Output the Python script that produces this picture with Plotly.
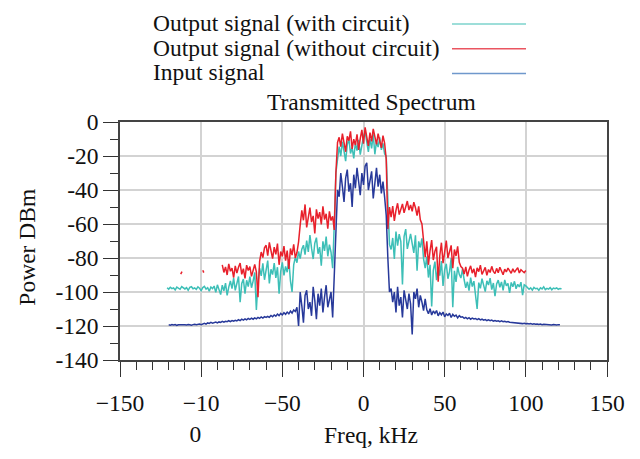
import plotly.graph_objects as go

# ---------------- data ----------------
# Input signal, sampled every 1 kHz from -120 to 121 kHz
input_start = -120
input_signal = [
    -119.3, -119.5, -119.2, -119.4, -119.1, -119.6, -119.3, -119.2, -119.5, -119.0,
    -119.3, -119.4, -119.1, -119.3, -119.5, -119.2, -119.0, -119.3, -119.1, -118.9, -119.2,
    -118.8, -118.4, -118.9, -118.2, -118.5, -117.9, -118.3, -118.0, -117.7, -118.2,
    -117.6, -117.9, -117.3, -117.8, -117.2, -117.5, -116.9, -117.4, -116.8, -117.1,
    -116.6, -117.0, -116.3, -116.8, -116.0, -116.5, -115.8, -116.4, -115.6, -116.1,
    -115.4, -116.0, -115.2, -115.8, -114.9, -115.5, -114.7, -115.3, -114.5, -115.0,
    -114.4, -114.9, -113.8, -114.6, -113.5, -114.2, -113.0, -113.9, -112.6, -113.5,
    -112.2, -113.1, -111.8, -112.8, -111.2, -112.4, -110.6, -111.5,
    -109, -120, -100, -108, -118, -102, -99, -110, -106, -114,
    -97, -105, -116, -101, -108, -98, -112, -103, -96, -109,
    -104, -100, -115,
    -90, -55, -40,
    -44, -30, -38, -47, -33, -28, -41, -36, -50, -31,
    -39, -27, -35, -43, -30, -37, -26, -24, -40, -33,
    -29, -45, -34, -27, -38, -31, -42, -35, -44,
    -55, -80, -100,
    -98, -106, -100, -112, -97, -108, -103, -115, -99, -104,
    -110, -101, -107, -125, -100, -104, -98, -109, -102, -106, -111, -104,
    -110.5, -112.8, -109.8, -113.5, -111.2, -112.6, -110.9, -114.0, -112.1, -113.4,
    -111.8, -114.6, -112.9, -113.8, -112.5, -115.0, -113.2, -114.3, -113.6, -115.2,
    -113.9, -114.8,
    -114.6, -115.5, -114.9, -115.8, -115.1, -116.0, -115.4, -115.9, -115.6, -116.3,
    -115.7, -116.4, -116.0, -116.6, -116.2, -116.8, -116.4, -116.9, -116.5, -117.1,
    -116.8, -117.2, -116.9, -117.4, -117.0, -117.5, -117.2, -117.6, -117.4, -117.8,
    -117.9, -118.2, -118.0, -118.4, -118.1, -118.5, -118.3, -118.6, -118.4, -118.7,
    -118.5, -118.8, -118.6, -118.9, -118.7, -119.0, -118.8, -119.1, -118.9, -119.2,
    -119.0, -119.1, -119.3, -119.0, -119.2, -119.4, -119.1, -119.3, -119.4, -119.2,
    -119.3,
]

# Output signal with circuit, every 1 kHz from -121 to 122 kHz
with_start = -121
with_circuit = [
    -97.5, -98.3, -97.2, -98.0, -97.6, -98.8, -97.1, -97.9, -98.4, -96.8,
    -97.7, -98.2, -97.4, -99.0, -97.3, -96.9, -98.1, -97.6, -98.5, -97.0,
    -97.8, -99.2, -97.4, -96.7, -98.3, -97.5, -99.5, -97.1, -98.0,
    -96.5, -100.2, -95.8, -98.6, -101.5, -96.0, -99.3, -94.8, -102.0, -97.1,
    -93.5, -98.0, -91.8, -99.0, -94.6, -90.9, -106.0, -95.0, -92.4, -101.0,
    -93.1, -96.8, -91.0, -97.5, -93.6, -88.5, -110.5, -94.0,
    -86.0, -90.5, -83.2, -92.8, -87.1, -81.5, -95.0, -86.6, -89.8, -83.0,
    -91.7, -85.4, -101.0, -87.9, -82.6, -90.2, -85.0, -88.4, -80.8, -93.5, -100.0,
    -84.0, -79.5, -82.8, -76.2, -80.4, -74.8,
    -72.5, -78.0, -69.8, -76.4, -66.5, -74.2, -80.6, -71.3, -68.0, -77.5,
    -73.6, -84.5, -70.2, -75.8, -67.4, -79.0, -72.1, -76.6, -86.0,
    -60, -30, -22,
    -14.5, -20.0, -11.6, -17.2, -23.0, -13.4, -9.8, -18.5, -15.0, -21.4,
    -12.2, -16.8, -10.5, -19.2, -14.1, -8.4, -5.8, -13.0, -17.6, -10.0,
    -15.5, -7.2, -19.0, -11.4, -14.8, -9.0, -16.4, -12.5, -18.8,
    -20, -45, -72,
    -75.0, -68.2, -80.5, -64.5, -72.8, -66.0, -70.3, -95.5, -67.4, -63.0,
    -74.6, -69.1, -65.8, -71.5, -77.0, -66.7, -87.5, -70.2, -73.8, -68.4,
    -80.5, -86.0, -79.2, -91.5, -84.0, -108.5, -87.3, -82.1, -93.0, -85.6,
    -90.4, -81.8, -96.5, -86.9, -83.4, -92.2, -88.0, -80.0, -109.0, -87.5,
    -94.0, -85.2, -89.6, -91.8, -86.4,
    -92.8, -97.5, -94.0, -99.2, -91.5, -96.8, -93.6, -101.0, -110.0, -94.5,
    -97.8, -92.2, -96.0, -99.8, -93.4, -95.9, -91.8, -98.6, -94.7, -102.5,
    -95.3, -93.0, -97.2, -94.1, -99.0, -92.9, -96.3, -95.0, -100.5, -94.4,
    -96.9, -93.7, -98.1, -95.5, -97.0, -94.2, -101.8, -95.8, -96.4,
    -97.2, -98.4, -97.6, -98.9, -97.3, -98.1, -97.8, -99.0, -97.5, -98.2,
    -97.0, -98.6, -97.9, -98.3, -97.4, -98.7, -97.7, -98.0, -97.6, -98.4,
    -97.9, -98.1,
]

# Output signal without circuit: two stray fragments, then every 1 kHz from -87 to 100 kHz
without_stray_freq = [-112.6, -111.8, None, -99.0, -98.4, None]
without_stray_power = [-89.5, -88.0, None, -87.2, -88.6, None]
without_start = -87
without_circuit = [
    -84.0, -88.5, -85.2, -90.0, -83.5, -87.8, -86.0, -91.5, -84.6, -88.9,
    -85.5, -83.0, -89.6, -86.3, -92.0, -84.2, -87.4, -85.0, -90.8, -86.7,
    -83.8, -88.2, -103.0,
    -82.0, -76.5, -79.8, -74.0, -72.5, -78.6, -70.8, -75.2, -80.4, -73.6,
    -77.9, -71.5, -84.0, -76.2, -79.0, -73.0, -81.5, -75.6, -86.5, -74.4,
    -78.3, -72.0, -80.0, -76.8, -70.5,
    -60.5, -52.0, -57.8, -48.5, -62.0, -54.6, -50.3, -58.9, -55.2, -65.5,
    -51.4, -56.8, -53.0, -60.2, -49.6, -57.4, -54.0, -62.8, -52.6, -58.0,
    -55.5, -63.5,
    -30, -12,
    -9.0, -14.5, -6.8, -12.2, -17.5, -8.4, -11.0, -5.5, -15.8, -10.1,
    -13.6, -7.2, -16.4, -9.8, -4.6, -12.8, -3.2, -8.8, -14.0, -6.2,
    -11.4, -4.0, -9.5, -13.2, -6.9, -10.6, -15.2, -8.0, -12.4,
    -22, -63, -50,
    -56.0, -49.5, -58.2, -52.0, -47.8, -54.5, -50.6, -48.2, -53.4, -49.0,
    -46.5, -51.8, -48.8, -52.5, -47.2, -50.4, -55.0, -49.6, -57.5, -60.0,
    -72.0, -79.5, -70.2, -84.0, -75.6, -69.5, -81.2, -76.0, -73.4, -94.0,
    -78.5, -71.0, -83.0, -74.8, -69.8, -80.0, -76.4, -72.6, -86.0, -75.0,
    -78.8, -73.2, -82.5, -85.0,
    -86.0, -89.5, -85.2, -90.8, -87.0, -84.6, -88.9, -86.4, -91.2, -85.8,
    -88.0, -84.2, -89.7, -87.3, -85.5, -90.2, -86.8, -88.5, -84.9, -87.9,
    -89.2, -86.1, -88.7, -85.4, -87.6, -89.9, -86.6, -88.2, -85.9, -87.1,
    -89.0, -86.3, -88.4, -87.0, -85.7, -88.8, -86.9, -87.8, -88.6, -87.4,
]

series_names = ["Output signal (with circuit)", "Output signal (without circuit)", "Input signal"]
x_tickvals = [-150, -100, -50, 0, 50, 100, 150]
x_ticktext = ["\u2212150", "\u221210<br>0\u2002", "\u221250", "0", "50", "100", "150"]
y_tickvals = [-140, -120, -100, -80, -60, -40, -20, 0]
y_ticktext = ["-140", "-120", "-100", "-80", "-60", "-40", "-20", "0"]

# ---------------- styling ----------------
FONT = "Liberation Serif"
FS = 23.5
C_WITH = "#3dbfb7"
C_WITHOUT = "#e8202b"
C_INPUT = "#27399a"
LEG_COLORS = ["#7dd3cc", "#ea5560", "#6f98cc"]

W, H = 640, 459
L, R, T, B = 120, 33, 122, 87
PW, PH = W - L - R, H - T - B


def px(xp):
    return (xp - L) / PW


def py(yp):
    return (H - B - yp) / PH


x_with = list(range(with_start, with_start + len(with_circuit)))
x_without = without_stray_freq + list(range(without_start, without_start + len(without_circuit)))
y_without = without_stray_power + without_circuit
x_input = list(range(input_start, input_start + len(input_signal)))

fig = go.Figure()
fig.add_trace(go.Scatter(x=x_with, y=with_circuit, mode="lines", name=series_names[0],
                         line=dict(color=C_WITH, width=1.5), showlegend=False))
fig.add_trace(go.Scatter(x=x_without, y=y_without, mode="lines", name=series_names[1],
                         line=dict(color=C_WITHOUT, width=1.5), showlegend=False,
                         connectgaps=False))
fig.add_trace(go.Scatter(x=x_input, y=input_signal, mode="lines", name=series_names[2],
                         line=dict(color=C_INPUT, width=1.5), showlegend=False))

annotations = []
shapes = []
# manual legend: text on the left, sample line on the right
leg_rows = [18, 44, 70]
for name, color, yp in zip(series_names, LEG_COLORS, leg_rows):
    annotations.append(dict(xref="paper", yref="paper", x=px(151), y=py(yp), text=name,
                            showarrow=False, xanchor="left", yanchor="middle",
                            font=dict(family=FONT, size=FS, color="#111")))
    shapes.append(dict(type="line", xref="paper", yref="paper", x0=px(452), x1=px(526),
                       y0=py(yp + 1), y1=py(yp + 1), line=dict(color=color, width=1.6)))

annotations.append(dict(xref="paper", yref="paper", x=px(371), y=py(101),
                        text="Transmitted Spectrum", showarrow=False,
                        xanchor="center", yanchor="middle",
                        font=dict(family=FONT, size=FS, color="#111")))
annotations.append(dict(xref="paper", yref="paper", x=px(371), y=py(451),
                        text="Freq, kHz", showarrow=False,
                        xanchor="center", yanchor="middle",
                        font=dict(family=FONT, size=FS, color="#111")))
annotations.append(dict(xref="paper", yref="paper", x=px(27), y=py(254),
                        text="Power DBm", showarrow=False, textangle=-90,
                        xanchor="center", yanchor="middle",
                        font=dict(family=FONT, size=FS, color="#111")))

fig.update_layout(
    width=W, height=H, autosize=False,
    margin=dict(l=L, r=R, t=T, b=B, pad=0),
    paper_bgcolor="white", plot_bgcolor="white",
    font=dict(family=FONT, size=FS, color="#111"),
    showlegend=False,
    annotations=annotations, shapes=shapes,
)
fig.update_xaxes(
    range=[-150, 150], tickmode="array", tickvals=x_tickvals, ticktext=x_ticktext,
    ticks="outside", ticklen=15, tickwidth=1.2, tickcolor="#333",
    minor=dict(dtick=10, tick0=0, ticks="outside", ticklen=8, tickwidth=1, tickcolor="#333",
               showgrid=False),
    showgrid=True, gridcolor="#d3d3d3", gridwidth=1.5,
    showline=True, linecolor="#444", linewidth=1.5, mirror=True,
    zeroline=False, ticklabelstandoff=6,
    tickfont=dict(family=FONT, size=FS, color="#111"),
)
fig.update_yaxes(
    range=[-140, 0], tickmode="array", tickvals=y_tickvals, ticktext=y_ticktext,
    ticks="outside", ticklen=15, tickwidth=1.2, tickcolor="#333",
    minor=dict(dtick=10, tick0=0, ticks="outside", ticklen=8, tickwidth=1, tickcolor="#333",
               showgrid=False),
    showgrid=True, gridcolor="#d3d3d3", gridwidth=1.5,
    showline=True, linecolor="#444", linewidth=1.5, mirror=True,
    zeroline=False,
    tickfont=dict(family=FONT, size=FS, color="#111"),
)

fig.write_html("out.html")
